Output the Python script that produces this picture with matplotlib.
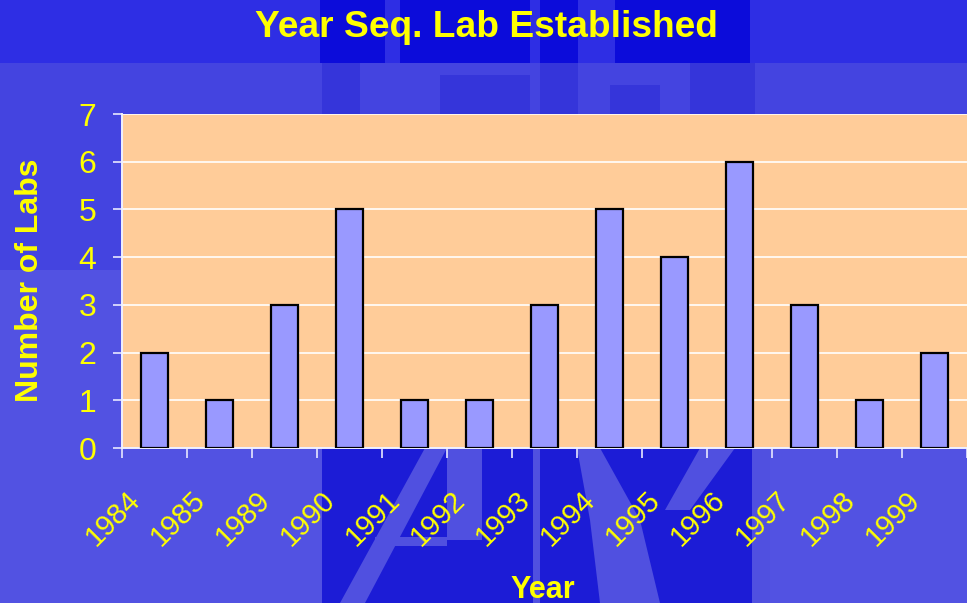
import numpy as np
import matplotlib
matplotlib.use("Agg")
import matplotlib.pyplot as plt
from matplotlib.patches import Polygon

years = ["1984", "1985", "1989", "1990", "1991", "1992", "1993",
         "1994", "1995", "1996", "1997", "1998", "1999"]
labs = [2, 1, 3, 5, 1, 1, 3, 5, 4, 6, 3, 1, 2]
yticks = [0, 1, 2, 3, 4, 5, 6, 7]

plt.rcParams['font.family'] = ['Liberation Sans', 'DejaVu Sans']
yellow = '#ffff00'

W, H = 967.0, 603.0
fig = plt.figure(figsize=(W / 100, H / 100), dpi=100)
fig.patch.set_facecolor('#5252e2')

# slide background, roughly: bands + dark watermark letters
def px_poly(pts, color):
    xy = [(px / W, 1 - py / H) for px, py in pts]
    fig.patches.append(Polygon(xy, closed=True, transform=fig.transFigure,
                               color=color, zorder=-10, lw=0))

def px_rect(x0, y0, x1, y1, color):
    px_poly([(x0, y0), (x1, y0), (x1, y1), (x0, y1)], color)

dark = '#1c1cd6'
light = '#5050e0'
px_rect(0, 63, W, 270, '#4444e0')
px_rect(0, 0, W, 63, '#2e2ee4')
px_rect(320, 0, 385, 63, '#0c0cda')
px_rect(400, 0, 530, 63, '#0c0cda')
px_rect(540, 0, 578, 63, '#0c0cda')
px_rect(615, 0, 750, 63, '#0c0cda')
px_rect(322, 63, 360, 114, '#3535da')
px_rect(440, 75, 530, 114, '#3535da')
px_rect(540, 63, 578, 114, '#3535da')
px_rect(610, 85, 660, 114, '#3535da')
px_rect(690, 63, 755, 114, '#3535da')
# lower watermark
px_rect(322, 448, 770, H, dark)
px_poly([(425, 448), (447, 448), (365, H), (340, H)], light)
px_rect(447, 448, 482, 540, light)
px_rect(375, 537, 447, 546, light)
px_rect(533, 448, 540, H, light)
px_poly([(577, 448), (600, 448), (640, 520), (660, H), (600, H), (590, 520)], light)
px_poly([(700, 448), (735, 448), (690, 510), (665, 510)], light)
px_rect(752, 448, 770, H, light)

ax = fig.add_axes([122 / W, 1 - 448 / H, (W - 122) / W, (448 - 114) / H])
ax.set_facecolor('#ffcc99')

x = np.arange(len(years))
ax.bar(x, labs, width=0.42, color='#9999ff', edgecolor='black', linewidth=1.6, zorder=3)

ax.set_xlim(-0.5, len(years) - 0.5)
ax.set_ylim(0, 7)
ax.set_yticks(yticks)
ax.yaxis.grid(True, color='white', linewidth=1.2, zorder=1)

# labels hang a little left of each bar centre, as in the slide
ax.set_xticks(x - 0.44)
ax.set_xticklabels(years, rotation=45, ha='right', va='top', rotation_mode='anchor',
                   fontsize=21, color=yellow)
ax.set_xticks(np.arange(len(years) + 1) - 0.5, minor=True)
ax.tick_params(axis='x', which='major', length=0, pad=27)
ax.tick_params(axis='x', which='minor', length=7, width=1.2, color='#e8e8ff', direction='out')
ax.tick_params(axis='y', length=6.5, width=1.2, color='#e8e8ff', labelsize=23,
               labelcolor=yellow, pad=12)

for s in ['top', 'right']:
    ax.spines[s].set_visible(False)
for s in ['left', 'bottom']:
    ax.spines[s].set_color('#f0f0ff')
    ax.spines[s].set_linewidth(1.4)

fig.text(30 / W, 1 - 280 / H, "Number of Labs", fontsize=23, fontweight='bold',
         color=yellow, rotation=90, ha='center', va='center')
fig.text(543 / W, 1 - 598 / H, "Year", fontsize=22, fontweight='bold', color=yellow,
         ha='center', va='baseline')
fig.text(486 / W, 1 - 37 / H, "Year Seq. Lab Established", fontsize=26.7, fontweight='bold',
         color=yellow, ha='center', va='baseline')

fig.savefig("out.png", dpi=100, facecolor=fig.get_facecolor())
